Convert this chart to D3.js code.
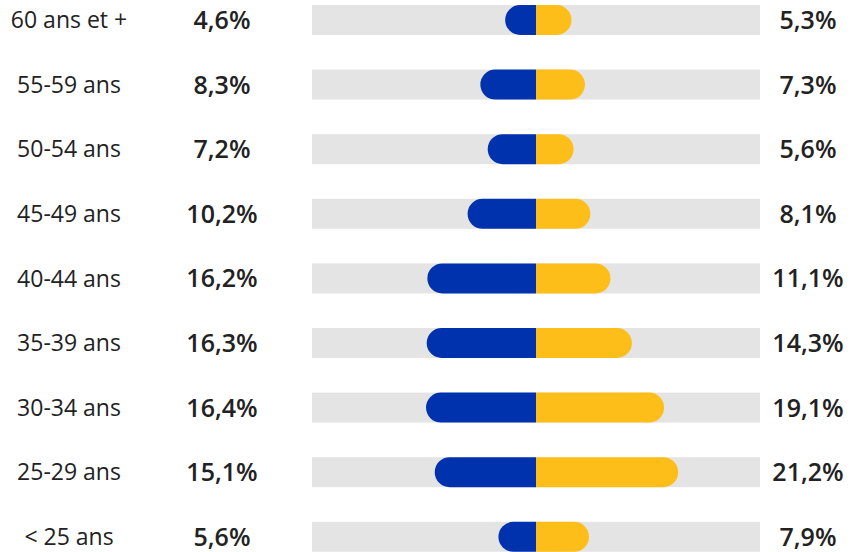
<!DOCTYPE html>
<html>
<head>
<meta charset="utf-8">
<script src="https://cdn.jsdelivr.net/npm/d3@7"></script>
<style>
  body { margin: 0; background: #fff; }
  text { font-family: "Open Sans", "Noto Sans", sans-serif; fill: #222; }
</style>
</head>
<body>
<svg id="chart"></svg>
<script>
// data, top row first
var ageGroups = ["60 ans et +", "55-59 ans", "50-54 ans", "45-49 ans", "40-44 ans", "35-39 ans", "30-34 ans", "25-29 ans", "< 25 ans"];
var leftValues = [4.6, 8.3, 7.2, 10.2, 16.2, 16.3, 16.4, 15.1, 5.6];
var rightValues = [5.3, 7.3, 5.6, 8.1, 11.1, 14.3, 19.1, 21.2, 7.9];

var width = 857, height = 552;
var center = 536, halfTrack = 224;
var barH = 30, r = barH / 2, step = 64.6;

var svg = d3.select("#chart").attr("width", width).attr("height", height);

// band scale for the rows
var yScale = d3.scaleBand().domain(ageGroups)
	.range([5, 5 + step * 8 + barH])
	.paddingInner((step - barH) / step)
	.paddingOuter(0);
// half-width scale in percent
var xScale = d3.scaleLinear().domain([0, 33.4]).range([0, halfTrack]);

var fmt = function(v){ return d3.format(".1f")(v).replace(".", ",") + "%"; };

// path with only the outer end rounded
function pill(x0, len, y, dir){
	var rr = Math.min(r, len);
	var p = d3.path();
	p.moveTo(x0, y);
	p.lineTo(x0 + dir * (len - rr), y);
	p.arc(x0 + dir * (len - rr), y + r, r, -Math.PI / 2, Math.PI / 2, dir < 0);
	p.lineTo(x0, y + barH);
	p.closePath();
	return p.toString();
}

var rows = svg.selectAll("g.row").data(ageGroups).enter().append("g").attr("class", "row");

rows.append("rect")
	.attr("x", center - halfTrack)
	.attr("y", function(d){ return yScale(d); })
	.attr("width", halfTrack * 2)
	.attr("height", barH)
	.attr("fill", "#e4e4e4");

rows.append("path")
	.attr("d", function(d, i){ return pill(center, xScale(leftValues[i]), yScale(d), -1); })
	.attr("fill", "#0032ad");

rows.append("path")
	.attr("d", function(d, i){ return pill(center, xScale(rightValues[i]), yScale(d), 1); })
	.attr("fill", "#fdbe1a");

rows.append("text")
	.attr("x", 69)
	.attr("y", function(d){ return yScale(d) + r; })
	.attr("dy", "0.36em")
	.attr("text-anchor", "middle")
	.style("font-size", "23px")
	.text(function(d){ return d; });

rows.append("text")
	.attr("x", 222)
	.attr("y", function(d){ return yScale(d) + r; })
	.attr("dy", "0.36em")
	.attr("text-anchor", "middle")
	.style("font-size", "25px")
	.style("font-weight", 600)
	.text(function(d, i){ return fmt(leftValues[i]); });

rows.append("text")
	.attr("x", 808)
	.attr("y", function(d){ return yScale(d) + r; })
	.attr("dy", "0.36em")
	.attr("text-anchor", "middle")
	.style("font-size", "25px")
	.style("font-weight", 600)
	.text(function(d, i){ return fmt(rightValues[i]); });
</script>
</body>
</html>
